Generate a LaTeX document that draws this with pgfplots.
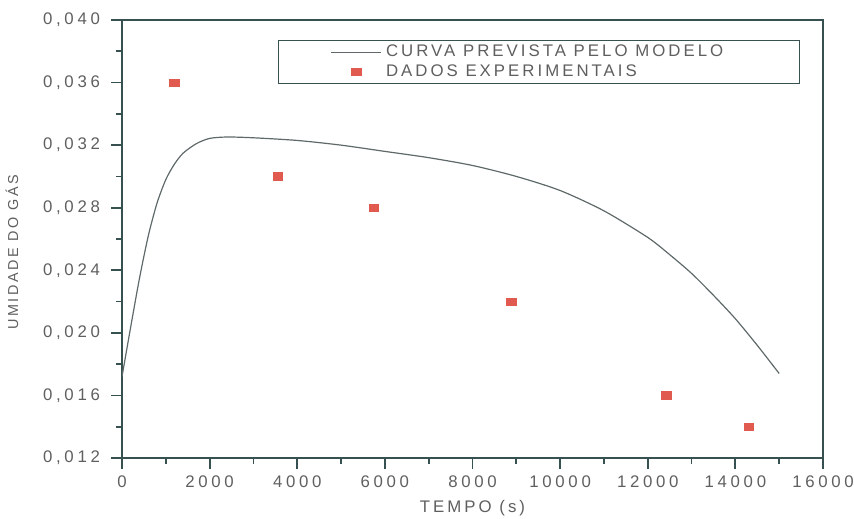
\documentclass[border=0pt]{standalone}
\usepackage{fontspec}
\setmainfont{Liberation Sans}[LetterSpace=18]
\newfontfamily\tickfont{Liberation Sans}[LetterSpace=22]
\usepackage{pgfplots}
\pgfplotsset{compat=1.18}

\definecolor{axiscol}{RGB}{55,80,80}
\definecolor{txtcol}{RGB}{95,95,95}
\definecolor{curvecol}{RGB}{95,105,105}
\definecolor{markcol}{RGB}{225,90,80}

\pgfplotsset{
  lineleg/.style={legend image code/.code={\draw[curvecol, line width=0.6pt] (0pt,0pt) -- (25pt,0pt);}},
  markleg/.style={legend image code/.code={\draw[##1] plot coordinates {(12.5pt,0pt)};}},
}

% Curva prevista pelo modelo
\pgfplotstableread{
t u
0 0.0172
200 0.0204
400 0.0235
600 0.0262
800 0.0283
1000 0.0298
1200 0.0308
1400 0.0315
1700 0.0321
2000 0.03243
2400 0.03252
3000 0.03247
4000 0.0323
5000 0.0320
6000 0.0316
7000 0.0312
8000 0.0307
9000 0.0300
10000 0.0291
11000 0.0278
12000 0.0261
12500 0.0250
13000 0.0238
13500 0.0224
14000 0.0209
14500 0.0192
15000 0.0174
}\curva

% Dados experimentais
\pgfplotstableread{
t u
1190 0.036
3560 0.030
5750 0.028
8880 0.022
12420 0.016
14310 0.014
}\dados

\begin{document}
\begin{tikzpicture}
\path[use as bounding box] (-61pt,-30pt) rectangle (366pt,229pt);
\begin{axis}[
  at={(0,0)}, anchor=south west,
  scale only axis, width=350.5pt, height=219pt,
  xmin=0, xmax=16000, ymin=0.012, ymax=0.040,
  xtick={0,2000,...,16000},
  ytick={0.012,0.016,...,0.0401},
  minor tick num=1,
  xtick pos=bottom, ytick pos=left,
  tick align=outside,
  major tick length=5.5pt, minor tick length=3pt,
  axis line style={axiscol, line width=1pt},
  every tick/.style={axiscol, line width=0.9pt},
  /pgf/number format/assume math mode=true,
  scaled x ticks=false, scaled y ticks=false,
  xticklabel style={/pgf/number format/1000 sep={}, font=\tickfont\fontsize{8.4}{10}\selectfont, text=txtcol},
  yticklabel style={/pgf/number format/.cd, fixed, fixed zerofill, precision=3, use comma, /tikz/.cd, font=\tickfont\fontsize{8.4}{10}\selectfont, text=txtcol, xshift=-2pt},
  xlabel={TEMPO (s)},
  ylabel={UMIDADE DO GÁS},
  xlabel style={at={(axis description cs:0.5,0)}, anchor=center, yshift=-25pt, font=\fontsize{8.4}{10}\selectfont, text=txtcol},
  ylabel style={at={(axis description cs:-0.157,0.47)}, anchor=center, font=\fontsize{7.2}{10}\selectfont, text=txtcol},
  legend style={at={(0.967,0.954)}, anchor=north east, draw=axiscol, line width=0.6pt,
    font=\fontsize{8.4}{10}\selectfont, text=txtcol, inner xsep=26pt, inner ysep=0pt,
    row sep=-1.5pt},
  legend cell align=left,
]
\addplot[curvecol, line width=0.6pt, smooth, tension=0.45, lineleg]
  table[x=t, y=u] {\curva};
\addlegendentry{CURVA PREVISTA PELO MODELO\hspace*{10pt}}
\addplot[only marks, mark=square*, mark size=1.8pt, mark options={draw=markcol, fill=markcol, xscale=1.35}, markleg]
  table[x=t, y=u] {\dados};
\addlegendentry{DADOS EXPERIMENTAIS\rule[-7.5pt]{0pt}{1pt}}
\end{axis}
\end{tikzpicture}
\end{document}
